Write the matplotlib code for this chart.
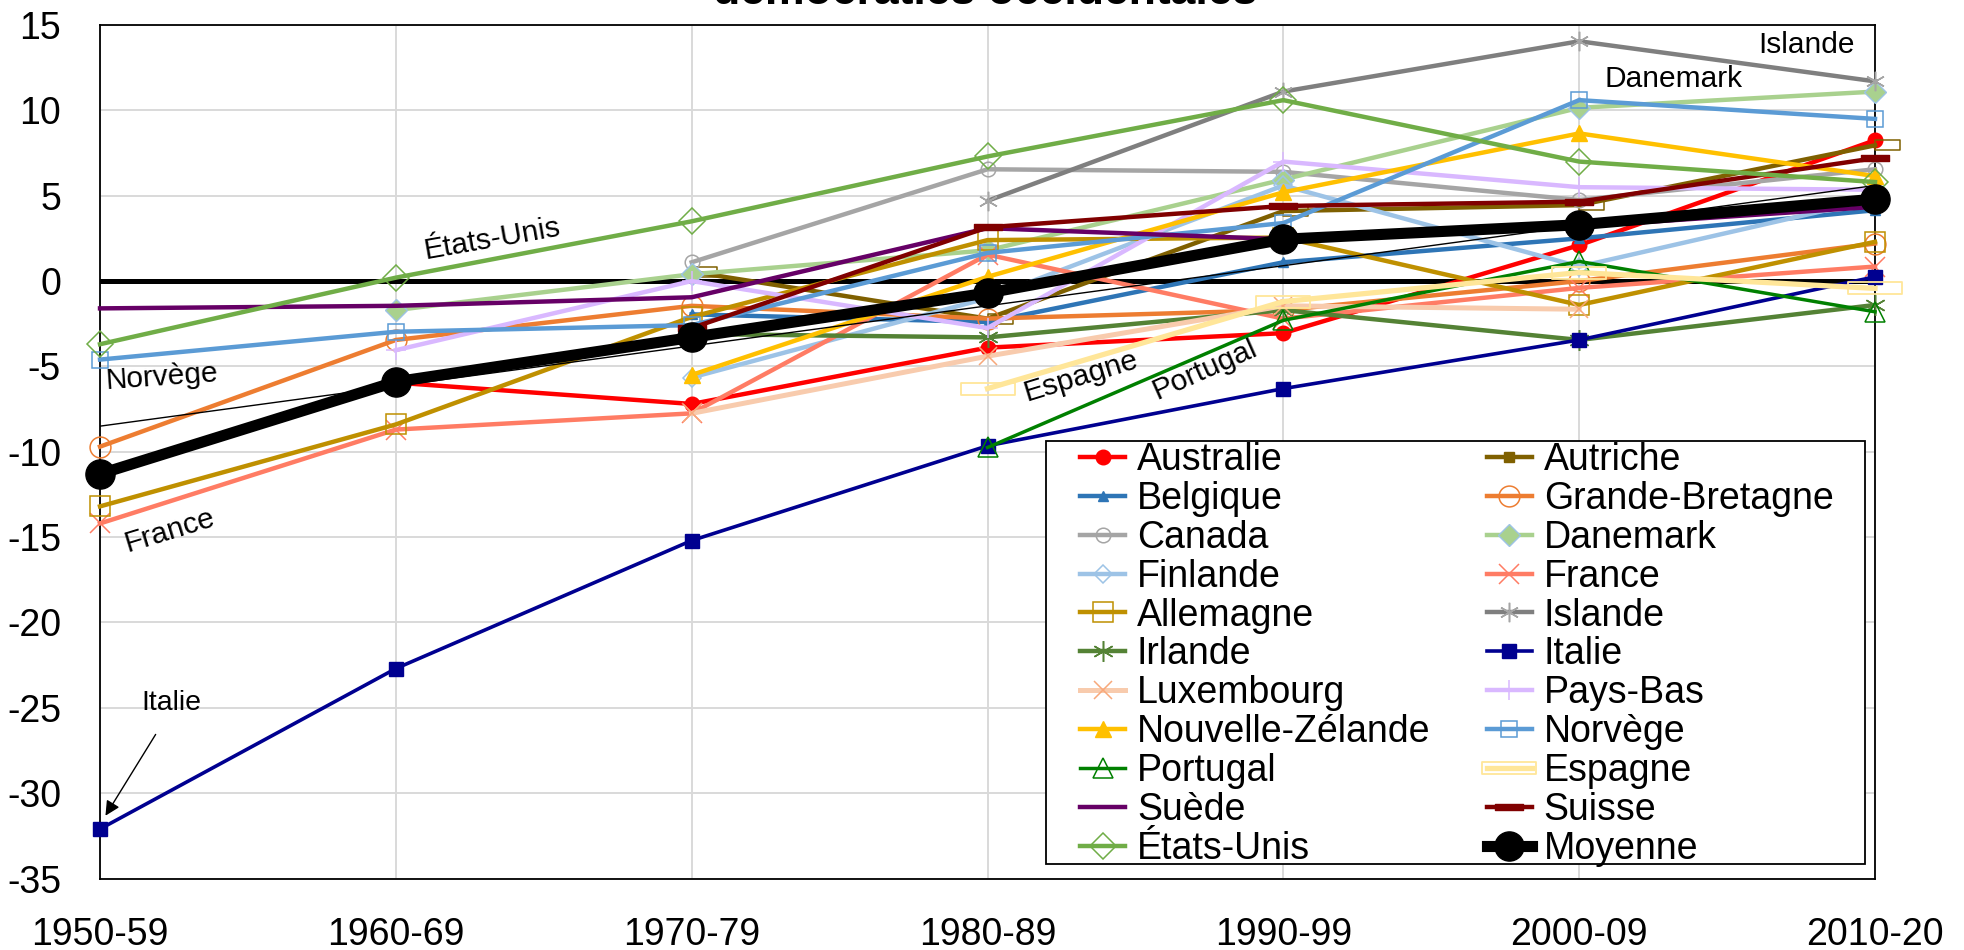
import numpy as np
import matplotlib
matplotlib.use("Agg")
import matplotlib.pyplot as plt
from matplotlib.lines import Line2D
from matplotlib.patches import Rectangle
from matplotlib.path import Path

plt.rcParams["font.family"] = ["Liberation Sans", "DejaVu Sans"]
plt.rcParams["axes.unicode_minus"] = False

nan = np.nan

# Décennies (axe horizontal)
decennies = ["1950-59", "1960-69", "1970-79", "1980-89", "1990-99", "2000-09", "2010-20"]
graduations_y = [-35, -30, -25, -20, -15, -10, -5, 0, 5, 10, 15]

# Écart par pays et par décennie
australie = [nan, -5.95, -7.2, -3.9, -3.05, 2.1, 8.25]
autriche = [nan, nan, 0.55, -2.2, 4.1, 4.45, 7.95]
belgique = [nan, nan, -1.95, -2.4, 1.1, 2.5, 4.15]
grande_bretagne = [-9.7, -3.45, -1.45, -2.2, -1.7, 0.0, 2.2]
canada = [nan, nan, 1.1, 6.55, 6.4, 4.75, 6.55]
danemark = [nan, -1.7, 0.4, 1.8, 5.95, 10.15, 11.1]
finlande = [nan, nan, -5.65, -1.0, 5.6, 0.85, 4.8]
france = [-14.2, -8.7, -7.75, 1.55, -2.2, -0.4, 0.85]
allemagne = [-13.2, -8.4, -2.1, 2.4, 2.55, -1.4, 2.3]
islande = [nan, nan, nan, 4.7, 11.1, 14.05, 11.7]
irlande = [nan, nan, -3.1, -3.3, -1.7, -3.45, -1.4]
italie = [-32.1, -22.7, -15.2, -9.65, -6.3, -3.45, 0.25]
luxembourg = [nan, nan, -7.75, -4.4, -1.45, -1.65, nan]
pays_bas = [nan, -4.05, 0.0, -2.75, 7.0, 5.5, 5.35]
nouvelle_zelande = [nan, nan, -5.5, 0.25, 5.2, 8.65, 6.15]
norvege = [-4.6, -2.97, -2.58, 1.65, 3.4, 10.6, 9.5]
portugal = [nan, nan, nan, -9.75, -2.3, 1.15, -1.8]
espagne = [nan, nan, nan, -6.3, -1.2, 0.5, -0.43]
suede = [-1.6, -1.45, -0.95, 3.1, 2.45, 3.2, 4.35]
suisse = [nan, nan, -2.75, 3.15, 4.4, 4.65, 7.2]
etats_unis = [-3.7, 0.2, 3.5, 7.3, 10.6, 7.0, 5.8]
moyenne = [-11.3, -5.9, -3.3, -0.7, 2.45, 3.3, 4.8]

# Droite de tendance (valeurs aux deux extrémités)
tendance_x = [0, 6]
tendance = [-8.5, 5.6]

# Marqueurs rectangulaires
rect_decale = Path([(0, -0.5), (2.4, -0.5), (2.4, 0.5), (0, 0.5), (0, -0.5)], closed=True)
rect_plat = Path([(-2.25, -0.5), (2.25, -0.5), (2.25, 0.5), (-2.25, 0.5), (-2.25, -0.5)], closed=True)
rect_large = Path([(-2.4, -0.5), (2.4, -0.5), (2.4, 0.5), (-2.4, 0.5), (-2.4, -0.5)], closed=True)
asterisque = (6, 2, 0)

LW = 3.2
# (libellé, valeurs, couleur, marqueur, taille, remplissage, contour, épaisseur contour, épaisseur trait)
series = [
    ("Australie", australie, "#FF0000", "o", 10.5, "#FF0000", "#FF0000", 1.0, LW),
    ("Autriche", autriche, "#7F6000", rect_decale, 36, "none", "#7F6000", 1.1, LW),
    ("Belgique", belgique, "#2E75B6", "^", 6.5, "#2E75B6", "#2E75B6", 1.0, LW),
    ("Grande-Bretagne", grande_bretagne, "#ED7D31", "o", 15, "none", "#ED7D31", 1.1, LW),
    ("Canada", canada, "#A5A5A5", "o", 10.5, "none", "#A5A5A5", 1.1, LW),
    ("Danemark", danemark, "#A9D18E", "D", 11, "#A9D18E", "#9DC3E6", 1.0, LW),
    ("Finlande", finlande, "#9DC3E6", "D", 9.5, "none", "#9DC3E6", 1.1, LW),
    ("France", france, "#FF7C64", "x", 14, "none", "#FF7C64", 1.1, LW),
    ("Allemagne", allemagne, "#BF9000", "s", 14, "none", "#BF9000", 1.1, LW),
    ("Islande", islande, "#7F7F7F", asterisque, 14, "none", "#A5A5A5", 1.1, LW),
    ("Irlande", irlande, "#548235", asterisque, 15, "none", "#548235", 1.1, LW),
    ("Italie", italie, "#000090", "s", 10.5, "#000090", "#000090", 1.0, 2.6),
    ("Luxembourg", luxembourg, "#F8CBAD", "x", 13, "none", "#F8A87A", 1.1, 3.6),
    ("Pays-Bas", pays_bas, "#D9B8FF", "+", 15, "none", "#D9B8FF", 1.1, LW),
    ("Nouvelle-Zélande", nouvelle_zelande, "#FFC000", "^", 12, "#FFC000", "#FFC000", 1.0, LW),
    ("Norvège", norvege, "#5B9BD5", "s", 11, "none", "#5B9BD5", 1.1, LW),
    ("Portugal", portugal, "#008000", "^", 15, "none", "#008000", 1.1, 2.5),
    ("Espagne", espagne, "#FFE699", rect_large, 39, "none", "#FFE699", 1.3, 3.8),
    ("Suède", suede, "#660066", "None", 1, "none", "#660066", 1.0, LW),
    ("Suisse", suisse, "#800000", rect_plat, 20, "#800000", "#800000", 1.0, LW),
    ("États-Unis", etats_unis, "#70AD47", "D", 13, "none", "#70AD47", 1.1, LW),
    ("Moyenne", moyenne, "#000000", "o", 21, "#000000", "#000000", 1.0, 8.0),
]

fig = plt.figure(figsize=(19.64, 9.5), dpi=100)
ax = fig.add_axes([0.05092, 0.07526, 0.90377, 0.8984])

x = np.arange(len(decennies))
ax.axhline(0, color="black", lw=3.6, zorder=1.8)

handles = {}
for i, (nom, vals, coul, mk, ms, mfc, mec, mew, lw) in enumerate(series):
    ln, = ax.plot(x, vals, color=coul, lw=lw, marker=mk, markersize=ms,
                  markerfacecolor=mfc, markeredgecolor=mec, markeredgewidth=mew,
                  label=nom, clip_on=False, zorder=3 + i * 0.01)
    handles[nom] = ln

ax.plot(tendance_x, tendance, color="black", lw=1.0, zorder=3.5)

ax.set_xlim(0, len(decennies) - 1)
ax.set_ylim(-35, 15)
ax.set_xticks(x)
ax.set_xticklabels(decennies)
ax.set_yticks(graduations_y)
ax.tick_params(length=0, pad=28, labelsize=27)
ax.grid(True, color="#D9D9D9", lw=1.4, zorder=0)
ax.set_axisbelow(True)
for sp in ax.spines.values():
    sp.set_color("black")
    sp.set_linewidth(1.3)

# Étiquettes des pays sur les courbes
fs_ann = 21.5
ax.text(1.326, 2.46, "États-Unis", fontsize=fs_ann, rotation=10, ha="center", va="center",
        rotation_mode="anchor")
ax.text(0.21, -5.6, "Norvège", fontsize=fs_ann, rotation=4, ha="center", va="center",
        rotation_mode="anchor")
ax.text(0.235, -14.6, "France", fontsize=fs_ann, rotation=17, ha="center", va="center",
        rotation_mode="anchor")
ax.text(3.316, -5.57, "Espagne", fontsize=fs_ann, rotation=17, ha="center", va="center",
        rotation_mode="anchor")
ax.text(3.735, -5.16, "Portugal", fontsize=fs_ann, rotation=24, ha="center", va="center",
        rotation_mode="anchor")
ax.text(5.32, 11.86, "Danemark", fontsize=fs_ann, ha="center", va="center")
ax.text(5.77, 13.83, "Islande", fontsize=fs_ann, ha="center", va="center")
ax.text(0.24, -24.7, "Italie", fontsize=20.5, ha="center", va="center")
ax.annotate("", xy=(0.0135, -31.46), xytext=(0.193, -26.42),
            arrowprops=dict(arrowstyle="-|>", color="black", lw=1.0, mutation_scale=22))

# Légende sur deux colonnes (ordre ligne par ligne)
noms = [s[0] for s in series]
ordre = noms[0::2] + noms[1::2]
leg_handles = []
for nom in ordre:
    if nom == "Autriche":
        leg_handles.append(Line2D([], [], color="#7F6000", lw=LW, marker="s", markersize=6.5,
                                  markerfacecolor="#7F6000", markeredgecolor="#7F6000"))
    else:
        leg_handles.append(handles[nom])

W, H = 1964.0, 950.0
cadre = Rectangle((1046 / W, 1 - 864 / H), (1865 - 1046) / W, (864 - 441) / H,
                  transform=fig.transFigure, facecolor="white", edgecolor="black",
                  lw=1.3, zorder=5)
fig.add_artist(cadre)
leg = fig.legend(leg_handles, ordre, loc="upper left",
                 bbox_to_anchor=(1080 / W, 1 - 442 / H), ncol=2, frameon=False,
                 fontsize=27, borderpad=0.0, borderaxespad=0.0, labelspacing=0.077,
                 handlelength=1.2, handletextpad=0.32, columnspacing=1.5)
leg.set_zorder(6)

# Titre (dernière ligne)
fig.text(985 / W, 1 - 3.5 / H, "démocraties occidentales", fontsize=32, fontweight="bold",
         ha="center", va="baseline")

fig.savefig("out.png", dpi=100)
